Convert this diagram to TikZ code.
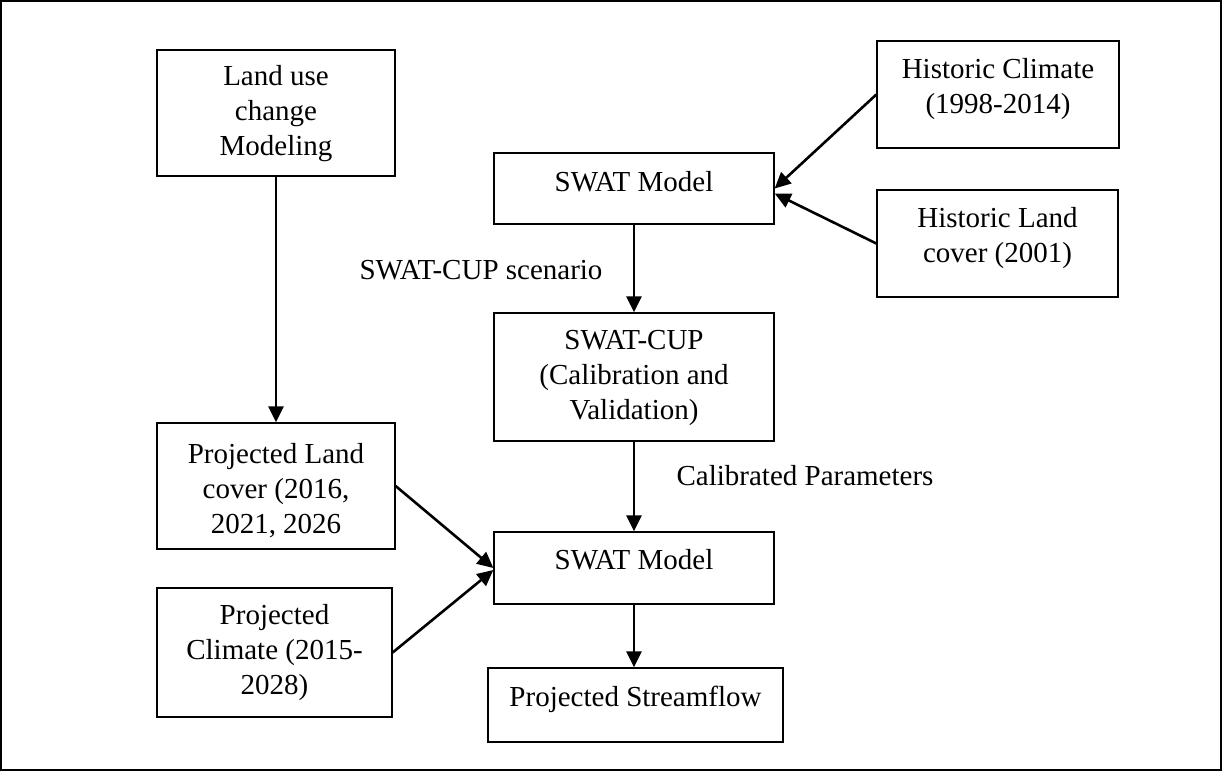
\documentclass[tikz,border=0pt]{standalone}
\usepackage{fontspec}
\setmainfont{Liberation Serif}
\usetikzlibrary{arrows.meta}
\newcommand{\boxtext}[2]{\raisebox{#1pt}[\height][\depth]{\begin{tabular}{@{}c@{}}#2\end{tabular}}}

\begin{document}
\begin{tikzpicture}[x=1pt,y=-1pt,
	box/.style={draw,line width=1.3pt,inner sep=0pt,font=\fontsize{29}{35}\selectfont},
	lbl/.style={inner sep=0pt,font=\fontsize{29}{35}\selectfont},
	link/.style={line width=2.6pt,-{Triangle[length=16pt,width=15pt]}}]
	\useasboundingbox (0,0) rectangle (1222,771);
	\draw[line width=2pt] (1,1) rectangle (1221,770);

	\node[box,minimum width=238pt,minimum height=126pt] (landuse) at (276,113) {\boxtext{0}{Land use\\change\\Modeling}};
	\node[box,minimum width=242pt,minimum height=107pt] (histclim) at (998,94.5) {\boxtext{6}{Historic Climate\\(1998-2014)}};
	\node[box,minimum width=241pt,minimum height=107pt] (histland) at (997.5,243.5) {\boxtext{6}{Historic Land\\cover (2001)}};
	\node[box,minimum width=280pt,minimum height=71pt] (swatA) at (634,188.5) {\boxtext{4}{SWAT Model}};
	\node[box,minimum width=280pt,minimum height=128pt] (swatcup) at (634,377) {\boxtext{0}{SWAT-CUP\\(Calibration and\\Validation)}};
	\node[box,minimum width=280pt,minimum height=72pt] (swatB) at (634,568) {\boxtext{6}{SWAT Model}};
	\node[box,minimum width=238pt,minimum height=126pt] (projland) at (276,486) {\boxtext{-5}{Projected Land\\cover (2016,\\2021, 2026}};
	\node[box,minimum width=235pt,minimum height=129pt] (projclim) at (274.5,652.5) {\boxtext{0}{Projected\\Climate (2015-\\2028)}};
	\node[box,minimum width=295pt,minimum height=74pt] (flow) at (635.5,705) {\boxtext{6}{Projected Streamflow}};

	\node[lbl] (scenario) at (481,270) {SWAT-CUP scenario};
	\node[lbl] (calib) at (805,476) {Calibrated Parameters};

	% links
	\draw[link] (landuse.south) -- (projland.north);
	\draw[link] (histclim.west) -- (swatA.east);
	\draw[link] (histland.west) -- ([yshift=-5pt]swatA.east);
	\draw[link] (swatA.south) -- (swatcup.north);
	\draw[link] (swatcup.south) -- (swatB.north);
	\draw[link] (projland.east) -- (swatB.west);
	\draw[link] (projclim.east) -- ([yshift=-2pt]swatB.west);
	\draw[link] (swatB.south) -- (swatB.south |- flow.north);
\end{tikzpicture}
\end{document}
